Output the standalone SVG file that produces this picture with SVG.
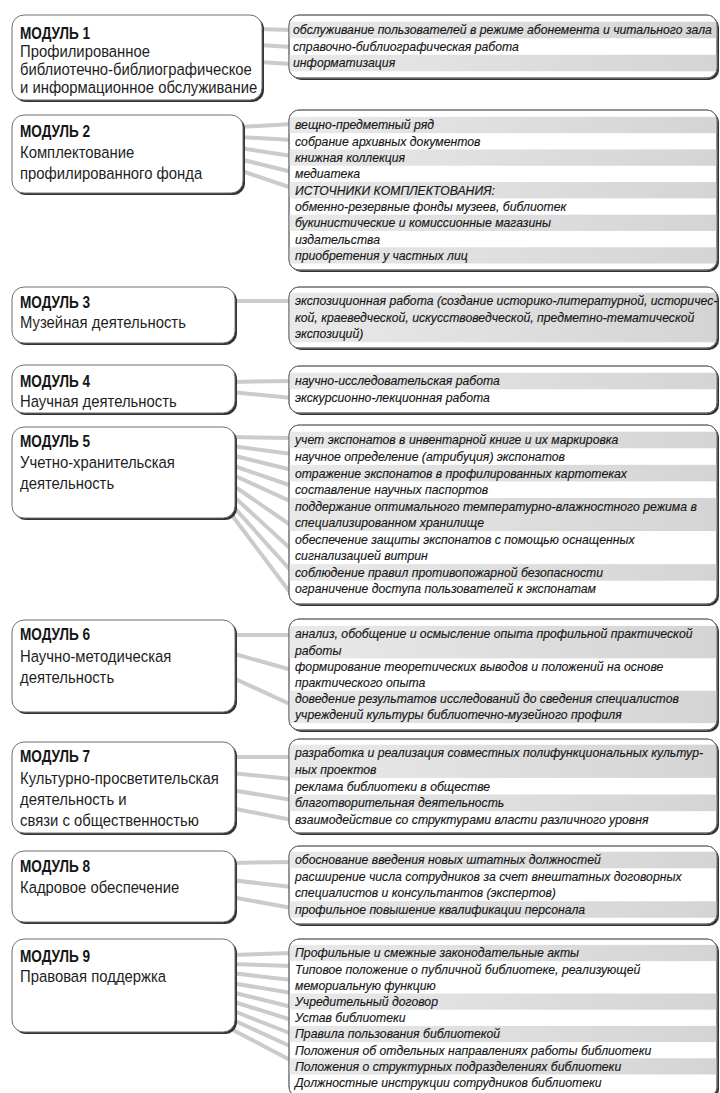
<svg xmlns="http://www.w3.org/2000/svg" width="720" height="1093" viewBox="0 0 720 1093">
<style>
.bg{fill:#ffffff}
.sh{fill:#333333}
.bx{fill:#ffffff;stroke:#707070;stroke-width:1}
.h{font-family:"Liberation Sans",Arial,sans-serif;font-weight:bold;font-size:16px;fill:#151515}
.b{font-family:"Liberation Sans",Arial,sans-serif;font-size:16.5px;fill:#1e1e1e}
.i{font-family:"Liberation Sans",Arial,sans-serif;font-style:italic;font-size:13.6px;fill:#151515;stroke:#151515;stroke-width:0.15}
.band{fill:url(#band)}
.cn line{stroke:#cbcbcb;stroke-width:4;stroke-linecap:butt}
</style>
<defs>
<linearGradient id="band" x1="0" y1="0" x2="1" y2="0">
<stop offset="0" stop-color="#e9e9e9"/>
<stop offset="1" stop-color="#d4d4d4"/>
</linearGradient>
<clipPath id="c1"><rect x="289" y="15" width="428" height="63" rx="10"/></clipPath>
<clipPath id="c2"><rect x="289" y="110" width="428" height="160" rx="10"/></clipPath>
<clipPath id="c3"><rect x="289" y="287" width="428" height="61" rx="10"/></clipPath>
<clipPath id="c4"><rect x="289" y="366" width="428" height="47" rx="10"/></clipPath>
<clipPath id="c5"><rect x="289" y="425" width="428" height="179" rx="10"/></clipPath>
<clipPath id="c6"><rect x="289" y="619" width="428" height="111" rx="10"/></clipPath>
<clipPath id="c7"><rect x="289" y="739" width="428" height="94" rx="10"/></clipPath>
<clipPath id="c8"><rect x="289" y="846" width="428" height="78" rx="10"/></clipPath>
<clipPath id="c9"><rect x="289" y="939" width="428" height="158" rx="10"/></clipPath>
</defs>
<rect class="bg" x="0" y="0" width="720" height="1093"/>

<g id="connectors" class="cn">
<line x1="258" y1="29" x2="292" y2="30"/>
<line x1="258" y1="45" x2="292" y2="47"/>
<line x1="258" y1="62" x2="292" y2="64"/>

<line x1="239" y1="127" x2="292" y2="124"/>
<line x1="239" y1="137" x2="292" y2="140"/>
<line x1="239" y1="148" x2="292" y2="156"/>
<line x1="239" y1="159" x2="292" y2="172"/>
<line x1="239" y1="170" x2="292" y2="188"/>

<line x1="231" y1="301" x2="292" y2="301"/>

<line x1="231" y1="382" x2="292" y2="381"/>
<line x1="231" y1="392" x2="292" y2="398"/>

<line x1="231" y1="437" x2="292" y2="438"/>
<line x1="231" y1="446" x2="292" y2="454"/>
<line x1="231" y1="455" x2="292" y2="470"/>
<line x1="231" y1="465" x2="292" y2="486"/>
<line x1="231" y1="474" x2="292" y2="502"/>
<line x1="231" y1="484" x2="292" y2="526"/>
<line x1="231" y1="494" x2="292" y2="550"/>
<line x1="231" y1="504" x2="292" y2="572"/>
<line x1="231" y1="514" x2="292" y2="595"/>

<line x1="231" y1="635" x2="292" y2="635"/>
<line x1="231" y1="653" x2="292" y2="670"/>
<line x1="231" y1="677" x2="292" y2="705"/>

<line x1="231" y1="757" x2="292" y2="757"/>
<line x1="231" y1="773" x2="292" y2="779"/>
<line x1="231" y1="790" x2="292" y2="800"/>
<line x1="231" y1="808" x2="292" y2="820"/>

<line x1="231" y1="863" x2="292" y2="862"/>
<line x1="231" y1="880" x2="292" y2="887"/>
<line x1="231" y1="897" x2="292" y2="908"/>

<line x1="231" y1="955" x2="292" y2="953"/>
<line x1="231" y1="964" x2="292" y2="966"/>
<line x1="231" y1="973" x2="292" y2="980"/>
<line x1="231" y1="983" x2="292" y2="993"/>
<line x1="231" y1="992" x2="292" y2="1007"/>
<line x1="231" y1="1001" x2="292" y2="1020"/>
<line x1="231" y1="1010" x2="292" y2="1034"/>
<line x1="231" y1="1019" x2="292" y2="1047"/>
<line x1="231" y1="1029" x2="292" y2="1061"/>
</g>

<!-- MODULE 1 -->
<g id="m1">
<rect class="sh" x="14" y="17" width="250" height="85" rx="12"/>
<rect class="bx" x="12" y="15" width="250" height="85" rx="12"/>
<text class="h" transform="translate(20 39) scale(0.85 1)">МОДУЛЬ 1</text>
<text class="b" transform="translate(20 57) scale(0.9 1)">Профилированное</text>
<text class="b" transform="translate(20 75) scale(0.9 1)">библиотечно-библиографическое</text>
<text class="b" transform="translate(20 93) scale(0.9 1)">и информационное обслуживание</text>
</g>
<g id="m1-items">
<rect class="sh" x="291" y="17" width="428" height="63" rx="10"/>
<rect class="bx" x="289" y="15" width="428" height="63" rx="10"/>
<g clip-path="url(#c1)">
<rect class="band" x="289" y="21.75" width="428" height="16.5"/>
<rect class="band" x="289" y="54.75" width="428" height="16.5"/>
</g>
<rect x="289" y="15" width="428" height="63" rx="10" fill="none" stroke="#707070"/>
<g transform="translate(293 0) scale(0.9 1)">
<text class="i" x="0" y="34.5">обслуживание пользователей в режиме абонемента и читального зала</text>
<text class="i" x="0" y="51">справочно-библиографическая работа</text>
<text class="i" x="0" y="67.5">информатизация</text>
</g>
</g>

<!-- MODULE 2 -->
<g id="m2">
<rect class="sh" x="14" y="117" width="231" height="78" rx="12"/>
<rect class="bx" x="12" y="115" width="231" height="78" rx="12"/>
<text class="h" transform="translate(20 137) scale(0.85 1)">МОДУЛЬ 2</text>
<text class="b" transform="translate(20 158) scale(0.9 1)">Комплектование</text>
<text class="b" transform="translate(20 179) scale(0.9 1)">профилированного фонда</text>
</g>
<g id="m2-items">
<rect class="sh" x="291" y="112" width="428" height="160" rx="10"/>
<rect class="bx" x="289" y="110" width="428" height="160" rx="10"/>
<g clip-path="url(#c2)">
<rect class="band" x="289" y="116.85" width="428" height="16.3"/>
<rect class="band" x="289" y="149.45" width="428" height="16.3"/>
<rect class="band" x="289" y="182.05" width="428" height="16.3"/>
<rect class="band" x="289" y="214.65" width="428" height="16.3"/>
<rect class="band" x="289" y="247.25" width="428" height="16.3"/>
</g>
<rect x="289" y="110" width="428" height="160" rx="10" fill="none" stroke="#707070"/>
<g transform="translate(295 0) scale(0.9 1)">
<text class="i" x="0" y="129.5">вещно-предметный ряд</text>
<text class="i" x="0" y="145.8">собрание архивных документов</text>
<text class="i" x="0" y="162.1">книжная коллекция</text>
<text class="i" x="0" y="178.4">медиатека</text>
<text class="i" x="0" y="194.7">ИСТОЧНИКИ КОМПЛЕКТОВАНИЯ:</text>
<text class="i" x="0" y="211">обменно-резервные фонды музеев, библиотек</text>
<text class="i" x="0" y="227.3">букинистические и комиссионные магазины</text>
<text class="i" x="0" y="243.6">издательства</text>
<text class="i" x="0" y="259.9">приобретения у частных лиц</text>
</g>
</g>

<!-- MODULE 3 -->
<g id="m3">
<rect class="sh" x="14" y="289" width="223" height="56" rx="12"/>
<rect class="bx" x="12" y="287" width="223" height="56" rx="12"/>
<text class="h" transform="translate(20 308) scale(0.85 1)">МОДУЛЬ 3</text>
<text class="b" transform="translate(20 328) scale(0.9 1)">Музейная деятельность</text>
</g>
<g id="m3-items">
<rect class="sh" x="291" y="289" width="428" height="61" rx="10"/>
<rect class="bx" x="289" y="287" width="428" height="61" rx="10"/>
<g clip-path="url(#c3)">
<rect class="band" x="289" y="292.75" width="428" height="49.5"/>
</g>
<rect x="289" y="287" width="428" height="61" rx="10" fill="none" stroke="#707070"/>
<g transform="translate(295 0) scale(0.9 1)">
<text class="i" x="0" y="305.5">экспозиционная работа (создание историко-литературной, историчес-</text>
<text class="i" x="0" y="322">кой, краеведческой, искусствоведческой, предметно-тематической</text>
<text class="i" x="0" y="338.5">экспозиций)</text>
</g>
</g>

<!-- MODULE 4 -->
<g id="m4">
<rect class="sh" x="14" y="367" width="223" height="48" rx="12"/>
<rect class="bx" x="12" y="365" width="223" height="48" rx="12"/>
<text class="h" transform="translate(20 387) scale(0.85 1)">МОДУЛЬ 4</text>
<text class="b" transform="translate(20 407) scale(0.9 1)">Научная деятельность</text>
</g>
<g id="m4-items">
<rect class="sh" x="291" y="368" width="428" height="47" rx="10"/>
<rect class="bx" x="289" y="366" width="428" height="47" rx="10"/>
<g clip-path="url(#c4)">
<rect class="band" x="289" y="372.75" width="428" height="16.5"/>
</g>
<rect x="289" y="366" width="428" height="47" rx="10" fill="none" stroke="#707070"/>
<g transform="translate(295 0) scale(0.9 1)">
<text class="i" x="0" y="385.5">научно-исследовательская работа</text>
<text class="i" x="0" y="402">экскурсионно-лекционная работа</text>
</g>
</g>

<!-- MODULE 5 -->
<g id="m5">
<rect class="sh" x="14" y="429" width="223" height="91" rx="12"/>
<rect class="bx" x="12" y="427" width="223" height="91" rx="12"/>
<text class="h" transform="translate(20 447) scale(0.85 1)">МОДУЛЬ 5</text>
<text class="b" transform="translate(20 468) scale(0.9 1)">Учетно-хранительская</text>
<text class="b" transform="translate(20 489) scale(0.9 1)">деятельность</text>
</g>
<g id="m5-items">
<rect class="sh" x="291" y="427" width="428" height="179" rx="10"/>
<rect class="bx" x="289" y="425" width="428" height="179" rx="10"/>
<g clip-path="url(#c5)">
<rect class="band" x="289" y="431.725" width="428" height="16.55"/>
<rect class="band" x="289" y="464.825" width="428" height="16.55"/>
<rect class="band" x="289" y="497.925" width="428" height="33.1"/>
<rect class="band" x="289" y="564.125" width="428" height="16.55"/>
</g>
<rect x="289" y="425" width="428" height="179" rx="10" fill="none" stroke="#707070"/>
<g transform="translate(295 0) scale(0.9 1)">
<text class="i" x="0" y="444.5">учет экспонатов в инвентарной книге и их маркировка</text>
<text class="i" x="0" y="461.05">научное определение (атрибуция) экспонатов</text>
<text class="i" x="0" y="477.6">отражение экспонатов в профилированных картотеках</text>
<text class="i" x="0" y="494.15">составление научных паспортов</text>
<text class="i" x="0" y="510.7">поддержание оптимального температурно-влажностного режима в</text>
<text class="i" x="0" y="527.25">специализированном хранилище</text>
<text class="i" x="0" y="543.8">обеспечение защиты экспонатов с помощью оснащенных</text>
<text class="i" x="0" y="560.35">сигнализацией витрин</text>
<text class="i" x="0" y="576.9">соблюдение правил противопожарной безопасности</text>
<text class="i" x="0" y="593.45">ограничение доступа пользователей к экспонатам</text>
</g>
</g>

<!-- MODULE 6 -->
<g id="m6">
<rect class="sh" x="14" y="622" width="223" height="92" rx="12"/>
<rect class="bx" x="12" y="620" width="223" height="92" rx="12"/>
<text class="h" transform="translate(20 640) scale(0.85 1)">МОДУЛЬ 6</text>
<text class="b" transform="translate(20 662) scale(0.9 1)">Научно-методическая</text>
<text class="b" transform="translate(20 683) scale(0.9 1)">деятельность</text>
</g>
<g id="m6-items">
<rect class="sh" x="291" y="621" width="428" height="111" rx="10"/>
<rect class="bx" x="289" y="619" width="428" height="111" rx="10"/>
<g clip-path="url(#c6)">
<rect class="band" x="289" y="625.9" width="428" height="32.4"/>
<rect class="band" x="289" y="690.7" width="428" height="32.4"/>
</g>
<rect x="289" y="619" width="428" height="111" rx="10" fill="none" stroke="#707070"/>
<g transform="translate(295 0) scale(0.9 1)">
<text class="i" x="0" y="638.5">анализ, обобщение и осмысление опыта профильной практической</text>
<text class="i" x="0" y="654.7">работы</text>
<text class="i" x="0" y="670.9">формирование теоретических выводов и положений на основе</text>
<text class="i" x="0" y="687.1">практического опыта</text>
<text class="i" x="0" y="703.3">доведение результатов исследований до сведения специалистов</text>
<text class="i" x="0" y="719.5">учреждений культуры библиотечно-музейного профиля</text>
</g>
</g>

<!-- MODULE 7 -->
<g id="m7">
<rect class="sh" x="14" y="744" width="223" height="91" rx="12"/>
<rect class="bx" x="12" y="742" width="223" height="91" rx="12"/>
<text class="h" transform="translate(20 762) scale(0.85 1)">МОДУЛЬ 7</text>
<text class="b" transform="translate(20 784) scale(0.9 1)">Культурно-просветительская</text>
<text class="b" transform="translate(20 805) scale(0.9 1)">деятельность и</text>
<text class="b" transform="translate(20 826) scale(0.9 1)">связи с общественностью</text>
</g>
<g id="m7-items">
<rect class="sh" x="291" y="741" width="428" height="94" rx="10"/>
<rect class="bx" x="289" y="739" width="428" height="94" rx="10"/>
<g clip-path="url(#c7)">
<rect class="band" x="289" y="744.7" width="428" height="33.2"/>
<rect class="band" x="289" y="794.5" width="428" height="16.6"/>
</g>
<rect x="289" y="739" width="428" height="94" rx="10" fill="none" stroke="#707070"/>
<g transform="translate(295 0) scale(0.9 1)">
<text class="i" x="0" y="757.5">разработка и реализация совместных полифункциональных культур-</text>
<text class="i" x="0" y="774.1">ных проектов</text>
<text class="i" x="0" y="790.7">реклама библиотеки в обществе</text>
<text class="i" x="0" y="807.3">благотворительная деятельность</text>
<text class="i" x="0" y="823.9">взаимодействие со структурами власти различного уровня</text>
</g>
</g>

<!-- MODULE 8 -->
<g id="m8">
<rect class="sh" x="14" y="853" width="223" height="71" rx="12"/>
<rect class="bx" x="12" y="851" width="223" height="71" rx="12"/>
<text class="h" transform="translate(20 872) scale(0.85 1)">МОДУЛЬ 8</text>
<text class="b" transform="translate(20 893) scale(0.9 1)">Кадровое обеспечение</text>
</g>
<g id="m8-items">
<rect class="sh" x="291" y="848" width="428" height="78" rx="10"/>
<rect class="bx" x="289" y="846" width="428" height="78" rx="10"/>
<g clip-path="url(#c8)">
<rect class="band" x="289" y="851.75" width="428" height="16.5"/>
<rect class="band" x="289" y="901.25" width="428" height="16.5"/>
</g>
<rect x="289" y="846" width="428" height="78" rx="10" fill="none" stroke="#707070"/>
<g transform="translate(295 0) scale(0.9 1)">
<text class="i" x="0" y="864.5">обоснование введения новых штатных должностей</text>
<text class="i" x="0" y="881">расширение числа сотрудников за счет внештатных договорных</text>
<text class="i" x="0" y="897.5">специалистов и консультантов (экспертов)</text>
<text class="i" x="0" y="914">профильное повышение квалификации персонала</text>
</g>
</g>

<!-- MODULE 9 -->
<g id="m9">
<rect class="sh" x="14" y="941" width="223" height="93" rx="12"/>
<rect class="bx" x="12" y="939" width="223" height="93" rx="12"/>
<text class="h" transform="translate(20 962) scale(0.85 1)">МОДУЛЬ 9</text>
<text class="b" transform="translate(20 982) scale(0.9 1)">Правовая поддержка</text>
</g>
<g id="m9-items">
<rect class="sh" x="291" y="941" width="428" height="158" rx="10"/>
<rect class="bx" x="289" y="939" width="428" height="158" rx="10"/>
<g clip-path="url(#c9)">
<rect class="band" x="289" y="944.9" width="428" height="16.2"/>
<rect class="band" x="289" y="993.5" width="428" height="16.2"/>
<rect class="band" x="289" y="1025.9" width="428" height="16.2"/>
<rect class="band" x="289" y="1058.3" width="428" height="16.2"/>
</g>
<rect x="289" y="939" width="428" height="158" rx="10" fill="none" stroke="#707070"/>
<g transform="translate(295 0) scale(0.9 1)">
<text class="i" x="0" y="957.5">Профильные и смежные законодательные акты</text>
<text class="i" x="0" y="973.7">Типовое положение о публичной библиотеке, реализующей</text>
<text class="i" x="0" y="989.9">мемориальную функцию</text>
<text class="i" x="0" y="1006.1">Учредительный договор</text>
<text class="i" x="0" y="1022.3">Устав библиотеки</text>
<text class="i" x="0" y="1038.5">Правила пользования библиотекой</text>
<text class="i" x="0" y="1054.7">Положения об отдельных направлениях работы библиотеки</text>
<text class="i" x="0" y="1070.9">Положения о структурных подразделениях библиотеки</text>
<text class="i" x="0" y="1087.1">Должностные инструкции сотрудников библиотеки</text>
</g>
</g>
</svg>
